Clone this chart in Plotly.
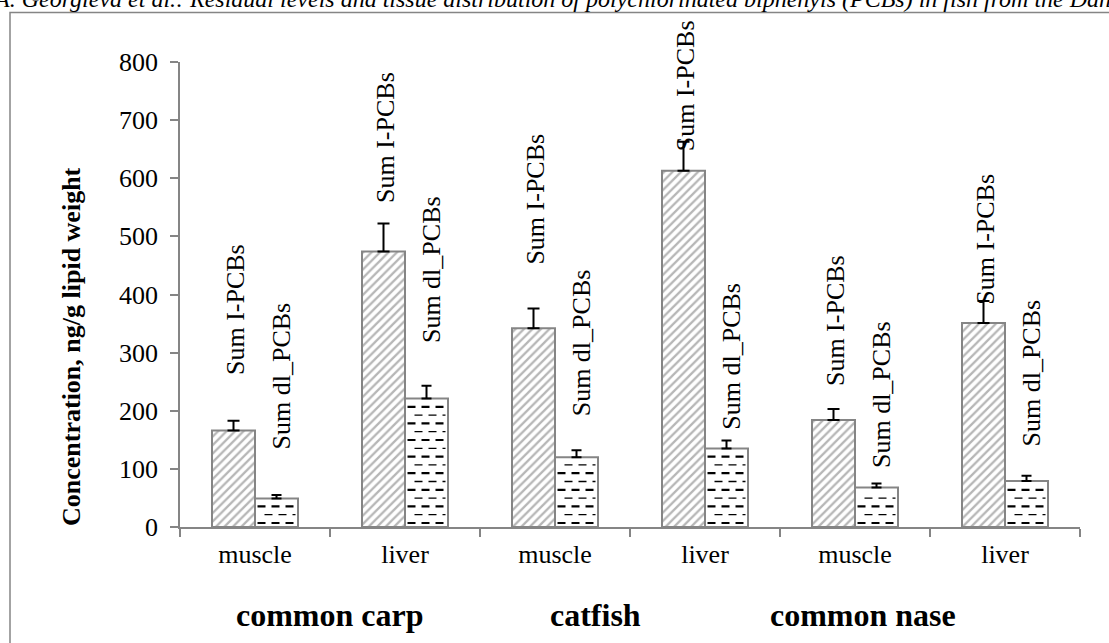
import plotly.graph_objects as go

# ---------------- data ----------------
tissues = ["muscle", "liver", "muscle", "liver", "muscle", "liver"]
species = ["common carp", "catfish", "common nase"]
series_names = ["Sum I-PCBs", "Sum dl_PCBs"]
i_pcbs = [166, 474, 342, 613, 184, 351]
i_pcbs_err = [17, 48, 34, 50, 19, 38]
dl_pcbs = [49, 221, 120, 135, 68, 79]
dl_pcbs_err = [6, 22, 12, 14, 7, 9]
y_ticks = [0, 100, 200, 300, 400, 500, 600, 700, 800]
y_title = "Concentration, ng/g lipid weight"
header = ("A. Georgieva et al.: Residual levels and tissue distribution of "
          "polychlorinated biphenyls (PCBs) in fish from the Danube River")

# label placement (value level where each rotated series label starts)
i_label_level = [258, 554, 448, 643, 239, 379]
dl_label_level = [130, 313, 187, 164, 98, 135]
species_pos = [0.5, 2.27, 4.05]

# ---------------- geometry ----------------
W, H = 1109, 643
L, R, T, B = 180, 29, 62, 116
PW, PH = W - L - R, H - T - B
YMAX = 800
n = len(tissues)
ux = n / PW            # category units per px
uy = YMAX / PH         # value units per px
BARGAP = 0.4267
bw = (1 - BARGAP) / 2

def px_x(p):
    return (p - L) / PW

def px_y(p):
    return (H - B - p) / PH

FONT = "Liberation Serif"
GRAY = "#858585"
xs = list(range(n))

fig = go.Figure()
fig.add_trace(go.Bar(
    x=xs, y=i_pcbs, name=series_names[0],
    marker=dict(color="white", line=dict(color=GRAY, width=2),
                pattern=dict(shape="/", fgcolor="#6e6e6e", bgcolor="white",
                             size=6, solidity=0.38)),
    error_y=dict(type="data", array=i_pcbs_err, arrayminus=[0] * n,
                 symmetric=False, color="black", thickness=2, width=6),
))
fig.add_trace(go.Bar(
    x=xs, y=dl_pcbs, name=series_names[1],
    marker=dict(color="white", line=dict(color=GRAY, width=2)),
    error_y=dict(type="data", array=dl_pcbs_err, arrayminus=[0] * n,
                 symmetric=False, color="black", thickness=2, width=5),
))

# dashed fill rows for the dl bars
thick_x, thick_y, thin_x, thin_y = [], [], [], []
for i, v in enumerate(dl_pcbs):
    x0 = i + 2.5 * ux
    x1 = i + bw - 2.5 * ux
    k = 0
    while True:
        yy = (4 + 8.3 * k) * uy
        if yy > v - 3 * uy:
            break
        if k % 2 == 0:
            thick_x += [x0, x1, None]
            thick_y += [yy, yy, None]
        else:
            thin_x += [x0 + 7 * ux, x1, None]
            thin_y += [yy, yy, None]
        k += 1
fig.add_trace(go.Scatter(x=thick_x, y=thick_y, mode="lines", hoverinfo="skip",
                         line=dict(color="black", width=2.2, dash="8px,6px")))
fig.add_trace(go.Scatter(x=thin_x, y=thin_y, mode="lines", hoverinfo="skip",
                         line=dict(color="black", width=1.3, dash="8px,6px")))

ann = []
for i in range(n):
    ann.append(dict(x=i - bw / 2 + 2 * ux, y=i_label_level[i], xref="x", yref="y",
                    text=series_names[0], textangle=-90, showarrow=False,
                    xanchor="center", yanchor="bottom",
                    font=dict(family=FONT, size=26, color="black")))
    ann.append(dict(x=i + bw / 2 + 5 * ux, y=dl_label_level[i], xref="x", yref="y",
                    text=series_names[1], textangle=-90, showarrow=False,
                    xanchor="center", yanchor="bottom",
                    font=dict(family=FONT, size=26, color="black")))
for s, p in zip(species, species_pos):
    ann.append(dict(x=p, y=px_y(615), xref="x", yref="paper", text="<b>%s</b>" % s,
                    showarrow=False, xanchor="center", yanchor="middle",
                    font=dict(family=FONT, size=32, color="black")))
ann.append(dict(x=px_x(71), y=px_y(347), xref="paper", yref="paper",
                text="<b>%s</b>" % y_title, textangle=-90, showarrow=False,
                xanchor="center", yanchor="middle",
                font=dict(family=FONT, size=26, color="black")))
ann.append(dict(x=px_x(-9), y=px_y(14), xref="paper", yref="paper",
                text="<i>%s</i>" % header, showarrow=False,
                xanchor="left", yanchor="bottom",
                font=dict(family=FONT, size=24, color="black")))

fig.update_layout(
    width=W, height=H,
    margin=dict(l=L, r=R, t=T, b=B, pad=0),
    paper_bgcolor="white", plot_bgcolor="white",
    barmode="group", bargap=BARGAP, bargroupgap=0,
    showlegend=False,
    font=dict(family=FONT, size=26, color="black"),
    annotations=ann,
    shapes=[dict(type="rect", xref="paper", yref="paper",
                 x0=px_x(10), x1=px_x(1140), y0=px_y(12.5), y1=px_y(680),
                 line=dict(color=GRAY, width=1.5), fillcolor="rgba(0,0,0,0)")],
)
fig.update_xaxes(
    range=[-0.5, n - 0.5], tickmode="array", tickvals=xs, ticktext=tissues,
    ticks="", showline=True, linecolor=GRAY, linewidth=1.5,
    showgrid=False, zeroline=False, ticklabelstandoff=3,
    tickfont=dict(family=FONT, size=26, color="black"),
    minor=dict(tick0=0.5, dtick=1, ticks="outside", ticklen=8,
               tickcolor=GRAY, tickwidth=1.5, showgrid=False),
)
fig.update_yaxes(
    range=[0, YMAX], tickmode="array", tickvals=y_ticks,
    ticks="outside", ticklen=8, tickcolor=GRAY, tickwidth=1.5,
    showline=True, linecolor=GRAY, linewidth=1.5,
    showgrid=False, zeroline=False, ticklabelstandoff=7,
    tickfont=dict(family=FONT, size=26, color="black"),
)

fig.write_html("out.html",
               config={"displayModeBar": False},
               post_script="document.body.style.margin='0';"
                           "document.body.style.overflow='hidden';")
